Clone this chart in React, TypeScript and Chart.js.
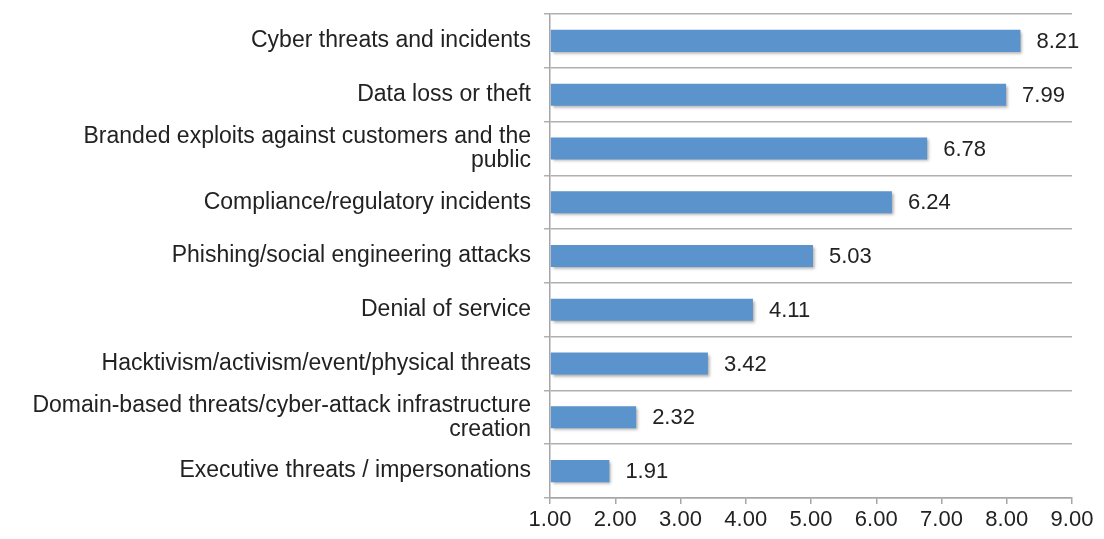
import React, { useEffect, useRef } from "react";
import { Chart, registerables } from "chart.js";

Chart.register(...registerables);

const categories: (string | string[])[] = [
  "Cyber threats and incidents",
  "Data loss or theft",
  ["Branded exploits against customers and the", "public"],
  "Compliance/regulatory incidents",
  "Phishing/social engineering attacks",
  "Denial of service",
  "Hacktivism/activism/event/physical threats",
  ["Domain-based threats/cyber-attack infrastructure", "creation"],
  "Executive threats / impersonations",
];
const values: number[] = [8.21, 7.99, 6.78, 6.24, 5.03, 4.11, 3.42, 2.32, 1.91];
const xMin = 1;
const xMax = 9;

const FONT = "'Liberation Sans', Arial, sans-serif";

const valueLabels = {
  id: "valueLabels",
  afterDatasetsDraw(chart: any) {
    const { ctx } = chart;
    const meta = chart.getDatasetMeta(0);
    ctx.save();
    ctx.font = `22px ${FONT}`;
    ctx.fillStyle = "#222222";
    ctx.textAlign = "left";
    ctx.textBaseline = "middle";
    meta.data.forEach((bar: any, i: number) => {
      ctx.fillText(values[i].toFixed(2), bar.x + 16, bar.y + 1);
    });
    ctx.restore();
  },
};

const barShadow = {
  id: "barShadow",
  beforeDatasetsDraw(chart: any) {
    const { ctx } = chart;
    ctx.save();
    ctx.shadowColor = "rgba(0,0,0,0.35)";
    ctx.shadowBlur = 3;
    ctx.shadowOffsetX = 2;
    ctx.shadowOffsetY = 2;
  },
  afterDatasetsDraw(chart: any) {
    chart.ctx.restore();
  },
};

export default function App() {
  const ref = useRef<HTMLCanvasElement>(null);
  useEffect(() => {
    document.body.style.margin = "0";
    const chart = new Chart(ref.current!, {
      type: "bar",
      data: {
        labels: categories,
        datasets: [
          {
            data: values,
            backgroundColor: "#5b93cc",
            borderWidth: 0,
            barPercentage: 0.82,
            categoryPercentage: 0.5,
            base: xMin,
          },
        ],
      },
      options: {
        indexAxis: "y",
        animation: false,
        responsive: true,
        maintainAspectRatio: false,
        layout: { padding: { top: 14, right: 32, bottom: 0, left: 0 } },
        plugins: { legend: { display: false }, tooltip: { enabled: false } },
        scales: {
          x: {
            min: xMin,
            max: xMax,
            ticks: {
              stepSize: 1,
              color: "#222222",
              font: { family: FONT, size: 22 },
              padding: 3,
              callback: (v: any) => Number(v).toFixed(2),
            },
            grid: {
              display: true,
              drawOnChartArea: false,
              drawTicks: true,
              tickLength: 6,
              color: "#a6a6a6",
              lineWidth: 1.5,
            },
            border: { display: true, color: "#a6a6a6", width: 1.5 },
            afterFit: (s: any) => {
              s.height = 41;
              s.paddingLeft = 0;
              s.paddingRight = 0;
            },
          },
          y: {
            ticks: {
              color: "#222222",
              font: { family: FONT, size: 23, lineHeight: 1.05 },
              padding: 13,
            },
            grid: {
              display: true,
              offset: true,
              drawOnChartArea: true,
              drawTicks: true,
              tickLength: 6,
              color: "#b0b0b0",
              lineWidth: 1.5,
            },
            border: { display: true, color: "#a6a6a6", width: 1.5 },
            afterFit: (s: any) => {
              s.width = 550;
              s.paddingTop = 0;
              s.paddingBottom = 0;
            },
          },
        },
      },
      plugins: [barShadow, valueLabels],
    });
    return () => chart.destroy();
  }, []);
  return (
    <div style={{ position: "absolute", left: 0, top: 0, width: 1104, height: 539, background: "#fff" }}>
      <canvas ref={ref} />
    </div>
  );
}
